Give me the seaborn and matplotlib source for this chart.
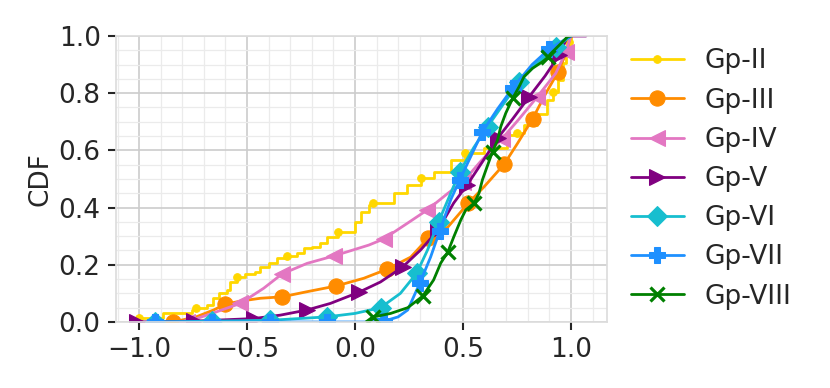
import numpy as np
import pandas as pd
import seaborn as sns
import matplotlib
matplotlib.use("Agg")
import matplotlib.pyplot as plt
from matplotlib.ticker import MultipleLocator

# ---- data (x value, CDF level) ----
gp2_x = [-1.0, -1.0, -0.89, -0.755, -0.735, -0.686, -0.656, -0.63, -0.593, -0.578, -0.547,
         -0.508, -0.462, -0.438, -0.40, -0.361, -0.313, -0.268, -0.237, -0.199, -0.16,
         -0.129, -0.081, 0.002, 0.026, 0.064, 0.083, 0.18, 0.242, 0.304, 0.365, 0.443,
         0.508, 0.598, 0.706, 0.75, 0.783, 0.845, 0.891, 0.918, 0.938, 0.962, 0.977,
         0.992, 1.0]
gp2_y = [0.0, 0.013, 0.03, 0.042, 0.05, 0.059, 0.084, 0.1, 0.112, 0.141, 0.157,
         0.168, 0.176, 0.193, 0.205, 0.223, 0.231, 0.24, 0.258, 0.263, 0.276,
         0.298, 0.316, 0.351, 0.386, 0.409, 0.415, 0.45, 0.479, 0.502, 0.526, 0.566,
         0.592, 0.607, 0.654, 0.662, 0.689, 0.729, 0.776, 0.803, 0.846, 0.905, 0.951,
         0.98, 1.0]

gp3_x = [-0.841, -0.732, -0.655, -0.601, -0.531, -0.438, -0.338, -0.222, -0.087, 0.041,
         0.15, 0.258, 0.34, 0.43, 0.524, 0.598, 0.691, 0.753, 0.822, 0.884, 0.941, 0.97,
         0.992, 1.0]
gp3_y = [0.0, 0.019, 0.042, 0.062, 0.073, 0.083, 0.088, 0.106, 0.126, 0.153,
         0.185, 0.227, 0.294, 0.332, 0.415, 0.473, 0.552, 0.625, 0.71, 0.80, 0.875, 0.927,
         0.98, 1.0]

gp4_x = [-0.78, -0.64, -0.531, -0.423, -0.338, -0.222, -0.098, 0.064, 0.132, 0.244,
         0.335, 0.43, 0.50, 0.58, 0.68, 0.76, 0.845, 0.93, 0.977, 1.0]
gp4_y = [0.0, 0.036, 0.065, 0.118, 0.168, 0.205, 0.231, 0.269, 0.29, 0.346,
         0.392, 0.45, 0.49, 0.56, 0.64, 0.71, 0.788, 0.87, 0.945, 1.0]

gp5_x = [-1.011, -0.748, -0.47, -0.346, -0.222, -0.114, 0.018, 0.118, 0.22, 0.304,
         0.383, 0.457, 0.52, 0.59, 0.66, 0.73, 0.807, 0.88, 0.946, 0.985, 1.07]
gp5_y = [0.0, 0.003, 0.012, 0.024, 0.042, 0.065, 0.104, 0.14, 0.192, 0.252,
         0.32, 0.416, 0.48, 0.56, 0.642, 0.71, 0.788, 0.86, 0.934, 1.0, 1.0]

gp6_x = [-0.926, -0.663, -0.392, -0.129, 0.0, 0.118, 0.21, 0.285, 0.336, 0.387, 0.443,
         0.485, 0.55, 0.614, 0.69, 0.76, 0.85, 0.93, 1.0]
gp6_y = [0.0, 0.003, 0.006, 0.018, 0.03, 0.05, 0.1, 0.17, 0.252, 0.35, 0.45,
         0.525, 0.61, 0.683, 0.765, 0.84, 0.91, 0.96, 1.0]

gp7_x = [-0.926, -0.663, -0.392, -0.129, 0.05, 0.135, 0.2, 0.244, 0.3, 0.35, 0.392,
         0.443, 0.485, 0.59, 0.66, 0.73, 0.82, 0.9, 1.0]
gp7_y = [0.0, 0.0, 0.0, 0.0, 0.0, 0.003, 0.018, 0.042, 0.136, 0.227, 0.318,
         0.427, 0.497, 0.665, 0.745, 0.818, 0.90, 0.955, 1.0]

gp8_x = [0.05, 0.081, 0.165, 0.244, 0.313, 0.364, 0.397, 0.43, 0.457, 0.49, 0.513,
         0.551, 0.574, 0.59, 0.606, 0.637, 0.66, 0.675, 0.698, 0.73, 0.76, 0.783,
         0.822, 0.868, 0.892, 0.907, 0.954, 0.985, 1.0]
gp8_y = [0.0, 0.017, 0.03, 0.05, 0.09, 0.147, 0.206, 0.245, 0.297, 0.357, 0.392,
         0.415, 0.45, 0.497, 0.531, 0.596, 0.636, 0.683, 0.73, 0.782, 0.823, 0.858,
         0.887, 0.91, 0.925, 0.939, 0.974, 0.998, 1.0]

groups = ["Gp-II", "Gp-III", "Gp-IV", "Gp-V", "Gp-VI", "Gp-VII", "Gp-VIII"]
xs = [gp2_x, gp3_x, gp4_x, gp5_x, gp6_x, gp7_x, gp8_x]
ys = [gp2_y, gp3_y, gp4_y, gp5_y, gp6_y, gp7_y, gp8_y]

# ---- styling ----
colors = ["#FFD700", "#FF8C00", "#E377C2", "#800080", "#17BECF", "#1E90FF", "#008000"]
markers = [".", "o", "<", ">", "D", "P", "x"]
msizes = [11, 11, 11, 11, 10, 11, 10]
mark_idx = [
    [1, 4, 10, 16, 22, 26, 29, 32, 35, 39, 43],
    [0, 3, 6, 8, 10, 12, 14, 16, 18, 20],
    [0, 2, 4, 6, 8, 10, 12, 14, 16, 18],
    [0, 1, 2, 4, 6, 8, 10, 12, 14, 16, 18],
    [0, 1, 2, 3, 5, 7, 9, 11, 13, 15, 17],
    [0, 1, 2, 3, 5, 8, 10, 12, 13, 15, 17],
    [1, 4, 7, 11, 15, 19, 24],
]

sns.set_theme(style="whitegrid")
FS = 19
plt.rcParams.update({
    "font.family": ["DejaVu Sans"],
    "font.size": FS,
    "axes.labelsize": FS,
    "xtick.labelsize": FS,
    "ytick.labelsize": FS,
    "legend.fontsize": FS,
    "text.color": "#262626",
    "axes.labelcolor": "#262626",
    "xtick.color": "#262626",
    "ytick.color": "#262626",
})

fig = plt.figure(figsize=(8.3, 3.88), dpi=100)
ax = fig.add_axes([116 / 830, 66 / 388, 491 / 830, 286 / 388])

for g, x, y, c, m, ms, mi in zip(groups, xs, ys, colors, markers, msizes, mark_idx):
    df = pd.DataFrame({"x": x, "y": y})
    kw = dict(drawstyle="steps-post") if g == "Gp-II" else {}
    sns.lineplot(data=df, x="x", y="y", ax=ax, estimator=None, sort=False,
                 color=c, marker=m, markersize=ms, markevery=mi,
                 markeredgecolor=c, markerfacecolor=c,
                 markeredgewidth=2.3 if m == "x" else 0.75,
                 linewidth=2.0, label=g, **kw)

ax.set_xlim(-1.107, 1.167)
ax.set_ylim(0, 1.0)
ax.xaxis.set_major_locator(MultipleLocator(0.5))
ax.xaxis.set_minor_locator(MultipleLocator(0.1))
ax.yaxis.set_major_locator(MultipleLocator(0.2))
ax.yaxis.set_minor_locator(MultipleLocator(0.05))
ax.grid(which="major", color="#cccccc", linewidth=1.2)
ax.grid(which="minor", color="#ebebeb", linewidth=0.9)
ax.tick_params(which="major", left=True, bottom=True, length=6, width=1.5, pad=5)
ax.tick_params(which="minor", left=False, bottom=False)
ax.set_xlabel("")
ax.set_ylabel("CDF")
for s in ax.spines.values():
    s.set_color("#dddddd")

ax.legend(loc="center left", bbox_to_anchor=(1.0, 0.5), frameon=False,
          handlelength=2.0, handletextpad=0.8, labelspacing=0.5, borderaxespad=0.5)

fig.savefig("out.png", dpi=100)
